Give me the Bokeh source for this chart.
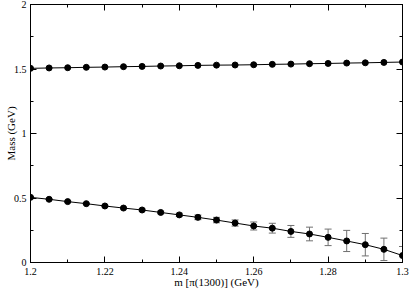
import math
from bokeh.plotting import figure
from bokeh.models import (Range1d, LinearAxis, SingleIntervalTicker, CustomJSTickFormatter,
                          ColumnDataSource, Whisker, TeeHead)
from bokeh.embed import file_html
from bokeh.resources import INLINE

# data
mass_x = [1.200, 1.205, 1.210, 1.215, 1.220, 1.225, 1.230, 1.235, 1.240, 1.245, 1.250,
          1.255, 1.260, 1.265, 1.270, 1.275, 1.280, 1.285, 1.290, 1.295, 1.300]
upper_y = [1.505, 1.508, 1.510, 1.513, 1.515, 1.518, 1.520, 1.523, 1.525, 1.528, 1.530,
           1.531, 1.533, 1.536, 1.538, 1.541, 1.543, 1.546, 1.548, 1.551, 1.554]
lower_y = [0.505, 0.490, 0.472, 0.456, 0.438, 0.422, 0.407, 0.388, 0.369, 0.350, 0.329,
           0.306, 0.283, 0.266, 0.241, 0.221, 0.195, 0.167, 0.138, 0.102, 0.054]
lower_err = [0.004, 0.004, 0.005, 0.005, 0.006, 0.007, 0.008, 0.010, 0.013, 0.018, 0.021,
             0.024, 0.031, 0.038, 0.046, 0.053, 0.064, 0.082, 0.087, 0.087, 0.070]

x_title = "m [π(1300)] (GeV)"
y_title = "Mass (GeV)"

FONT = "Liberation Serif"

p = figure(width=409, height=290, output_backend="svg", toolbar_location=None,
           x_range=Range1d(1.2, 1.3), y_range=Range1d(0, 2),
           x_axis_type=None, y_axis_type=None,
           min_border_left=30, min_border_right=7, min_border_top=4, min_border_bottom=26)
p.xgrid.visible = False
p.ygrid.visible = False
p.outline_line_color = "black"
p.background_fill_color = "white"
p.border_fill_color = "white"

fmt = CustomJSTickFormatter(code="return String(parseFloat(tick.toFixed(3)));")


def make_axis(interval, title=None, standoff=4, title_standoff=0):
    ax = LinearAxis(ticker=SingleIntervalTicker(interval=interval, num_minor_ticks=2),
                    formatter=fmt)
    ax.major_tick_in = 6
    ax.major_tick_out = 0
    ax.minor_tick_in = 3
    ax.minor_tick_out = 0
    ax.axis_line_color = "black"
    ax.major_tick_line_color = "black"
    ax.minor_tick_line_color = "black"
    if title is not None:
        ax.axis_label = title
        ax.major_label_text_font = FONT
        ax.major_label_text_font_size = "10px"
        ax.major_label_text_color = "black"
        ax.major_label_standoff = standoff
        ax.axis_label_text_font = FONT
        ax.axis_label_text_font_style = "normal"
        ax.axis_label_text_font_size = "11px"
        ax.axis_label_text_color = "black"
        ax.axis_label_standoff = title_standoff
    else:
        ax.major_label_text_font_size = "0px"
        ax.major_label_standoff = 0
        ax.major_label_text_color = None
    return ax


p.add_layout(make_axis(0.02, x_title, standoff=5, title_standoff=-2), "below")
p.add_layout(make_axis(0.02), "above")
p.add_layout(make_axis(0.5, y_title, standoff=4, title_standoff=-6), "left")
p.add_layout(make_axis(0.5), "right")

src_u = ColumnDataSource(dict(x=mass_x, y=upper_y))
lo = [y - e for y, e in zip(lower_y, lower_err)]
hi = [y + e for y, e in zip(lower_y, lower_err)]
src_l = ColumnDataSource(dict(x=mass_x, y=lower_y, lo=lo, hi=hi))

p.add_layout(Whisker(source=src_l, base="x", lower="lo", upper="hi",
                     line_color="#707070", line_width=1,
                     upper_head=TeeHead(size=7, line_color="#707070", line_width=1),
                     lower_head=TeeHead(size=7, line_color="#707070", line_width=1)))

for src in (src_u, src_l):
    p.line("x", "y", source=src, line_color="black", line_width=1)
    p.scatter("x", "y", source=src, size=6, fill_color="black", line_color="black")

open("out.html", "w").write(file_html(p, INLINE))
